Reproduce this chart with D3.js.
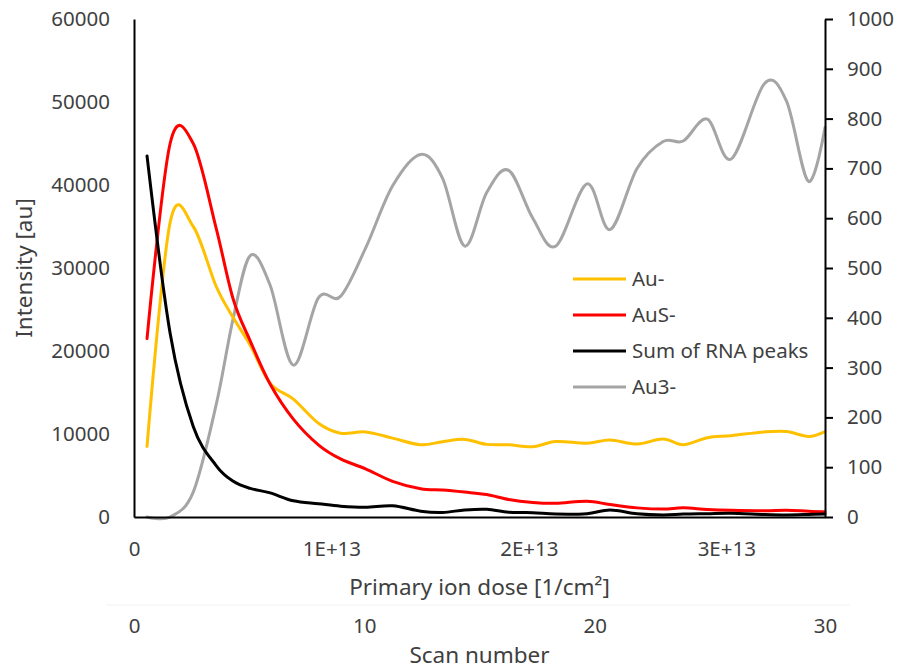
<!DOCTYPE html>
<html>
<head>
<meta charset="utf-8">
<script src="https://cdn.jsdelivr.net/npm/d3@7"></script>
<style>
  html, body { margin: 0; padding: 0; background: #ffffff; }
  svg { display: block; }
  text { font-family: "Noto Sans", "Open Sans", sans-serif; fill: #404040; }
</style>
</head>
<body>
<svg id="chart" width="898" height="670"></svg>
<script>
// Primary ion dose for each scan [1/cm²]
const dose = [0.66e12, 1.83e12, 3.00e12, 4.16e12, 5.03e12, 5.89e12, 6.90e12, 8.07e12, 9.34e12, 10.46e12,
              11.73e12, 13.10e12, 14.52e12, 15.63e12, 16.75e12, 17.87e12, 18.98e12, 20.20e12, 21.37e12, 22.94e12,
              24.11e12, 25.48e12, 26.80e12, 27.82e12, 29.04e12, 30.25e12, 31.93e12, 33.05e12, 34.16e12, 35.0e12];

// Intensities [au], left axis
const auMinus = [8500, 35500, 35000, 27800, 24000, 20700, 16100, 14200, 11300, 10100,
                 10250, 9500, 8700, 9070, 9350, 8750, 8700, 8470, 9100, 8900,
                 9280, 8800, 9400, 8700, 9550, 9800, 10250, 10300, 9700, 10280];
const ausMinus = [21500, 45000, 45000, 34800, 26200, 21200, 16000, 11800, 8700, 7000,
                  5800, 4300, 3400, 3250, 3000, 2700, 2100, 1750, 1650, 1900,
                  1500, 1100, 950, 1100, 900, 800, 750, 820, 700, 640];
const rnaSum = [43500, 22140, 10900, 6200, 4300, 3450, 2900, 1950, 1600, 1300,
                1170, 1350, 700, 550, 850, 930, 560, 520, 350, 400,
                850, 400, 250, 350, 400, 450, 300, 250, 300, 360];

// Au3- intensity [au], right axis
const au3Minus = [0, 0, 50, 225, 400, 525, 465, 305, 440, 443,
                  540, 665, 728, 680, 544, 652, 696, 600, 544, 669,
                  577, 700, 754, 755, 799, 719, 870, 835, 674, 782];

// Tick values
const leftTicks = [0, 10000, 20000, 30000, 40000, 50000, 60000];
const rightTicks = [0, 100, 200, 300, 400, 500, 600, 700, 800, 900, 1000];
const doseTicks = [0, 1e13, 2e13, 3e13];
const scanTicks = [0, 10, 20, 30];

const seriesNames = ["Au-", "AuS-", "Sum of RNA peaks", "Au3-"];
const seriesColors = ["#FFC000", "#FF0000", "#000000", "#A5A5A5"];

const svg = d3.select("#chart");
const plotL = 134, plotR = 825, plotT = 19, plotB = 517;
const tickFont = "20.5px", titleFont = "22.5px";

const x = d3.scaleLinear().domain([0, 3.5e13]).range([plotL, plotR]);
const xScan = d3.scaleLinear().domain([0, 30]).range([plotL, plotR]);
const yL = d3.scaleLinear().domain([0, 60000]).range([plotB, plotT]);
const yR = d3.scaleLinear().domain([0, 1000]).range([plotB, plotT]);

// faint separator
svg.append("line").attr("x1", 106).attr("x2", 850).attr("y1", 605).attr("y2", 605)
  .attr("stroke", "#f3f3f3").attr("stroke-width", 1);

// Series lines (secondary series first, primary ones above)
const lineL = d3.line().x((d, i) => x(dose[i])).y(d => yL(d)).curve(d3.curveCatmullRom.alpha(0));
const lineR = d3.line().x((d, i) => x(dose[i])).y(d => yR(d)).curve(d3.curveCatmullRom.alpha(0));

const g = svg.append("g").attr("fill", "none").attr("stroke-width", 3)
  .attr("stroke-linejoin", "round").attr("stroke-linecap", "round");
g.append("path").attr("d", lineR(au3Minus)).attr("stroke", seriesColors[3]);
g.append("path").attr("d", lineL(auMinus)).attr("stroke", seriesColors[0]);
g.append("path").attr("d", lineL(ausMinus)).attr("stroke", seriesColors[1]);
g.append("path").attr("d", lineL(rnaSum)).attr("stroke", seriesColors[2]);

// Left axis (no tick marks)
const axL = svg.append("g").attr("transform", `translate(${plotL},0)`)
  .call(d3.axisLeft(yL).tickValues(leftTicks).tickSize(0).tickPadding(24).tickFormat(d3.format("d")));
axL.select(".domain").attr("stroke", "#000").attr("stroke-width", 2);
axL.selectAll("text").style("font-size", tickFont).attr("fill", "#404040");

// Right axis with outward ticks
const axR = svg.append("g").attr("transform", `translate(${plotR},0)`)
  .call(d3.axisRight(yR).tickValues(rightTicks).tickSizeInner(8).tickSizeOuter(0).tickPadding(14).tickFormat(d3.format("d")));
axR.select(".domain").attr("stroke", "#000").attr("stroke-width", 2);
axR.selectAll(".tick line").attr("stroke", "#000").attr("stroke-width", 2);
axR.selectAll("text").style("font-size", tickFont).attr("fill", "#404040");

// Bottom dose axis
const axB = svg.append("g").attr("transform", `translate(0,${plotB})`)
  .call(d3.axisBottom(x).tickValues(doseTicks).tickSize(0).tickPadding(24)
    .tickFormat(d => d === 0 ? "0" : (d / 1e13) + "E+13"));
axB.select(".domain").attr("stroke", "#000").attr("stroke-width", 2);
axB.selectAll("text").style("font-size", tickFont).attr("fill", "#404040");

// Scan number axis
const axS = svg.append("g").attr("transform", `translate(0,610)`)
  .call(d3.axisBottom(xScan).tickValues(scanTicks).tickSize(0).tickPadding(8).tickFormat(d3.format("d")));
axS.select(".domain").remove();
axS.selectAll("text").style("font-size", tickFont).attr("fill", "#404040");

// Axis titles
svg.append("text").attr("x", (plotL + plotR) / 2).attr("y", 595).attr("text-anchor", "middle")
  .style("font-size", titleFont).text("Primary ion dose [1/cm²]");
svg.append("text").attr("x", (plotL + plotR) / 2).attr("y", 663).attr("text-anchor", "middle")
  .style("font-size", titleFont).text("Scan number");
svg.append("text").attr("transform", "translate(32,268) rotate(-90)").attr("text-anchor", "middle")
  .style("font-size", titleFont).text("Intensity [au]");

// Legend
const leg = svg.append("g").attr("transform", "translate(573,279)");
seriesNames.forEach((name, i) => {
  const row = leg.append("g").attr("transform", `translate(0,${i * 36})`);
  row.append("line").attr("x1", 0).attr("x2", 53).attr("y1", 0).attr("y2", 0)
    .attr("stroke", seriesColors[i]).attr("stroke-width", 3);
  row.append("text").attr("x", 59).attr("y", 0).attr("dy", "0.35em")
    .style("font-size", tickFont).text(name);
});
</script>
</body>
</html>
